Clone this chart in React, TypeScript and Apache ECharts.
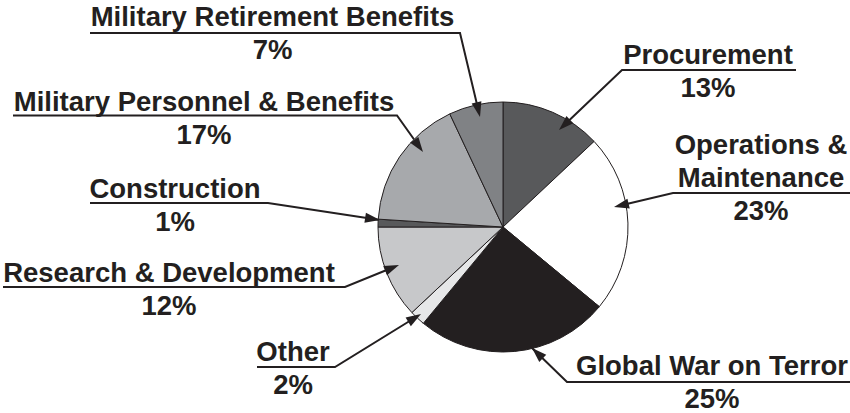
import React, { useEffect, useRef } from "react";
import * as echarts from "echarts";

// ---- Data ----
const categories: string[] = [
  "Procurement",
  "Operations &\nMaintenance",
  "Global War on Terror",
  "Other",
  "Research & Development",
  "Construction",
  "Military Personnel & Benefits",
  "Military Retirement Benefits",
];
const values: number[] = [13, 23, 25, 2, 12, 1, 17, 7];

// ---- Styles ----
const sliceColors: string[] = [
  "#58595b",
  "#ffffff",
  "#231f20",
  "#e6e7e8",
  "#c7c8ca",
  "#58595b",
  "#a7a9ac",
  "#808285",
];
const INK = "#231f20";
const CENTER: [number, number] = [503, 227];
const RADIUS = 125;
const FONT = 27.5;
const LINE_H = 33;

// ---- Label layout (annotation positions) ----
type LL = { x: number; base: number; tip: number[]; bend: number[]; far: number[] };
const labelLayouts: LL[] = [
  { x: 708, base: 64.5, tip: [559, 130], bend: [622, 70], far: [796, 70] },
  { x: 761, base: 154, tip: [614, 207], bend: [673, 193], far: [850, 193] },
  { x: 712, base: 375, tip: [532, 348], bend: [567, 382], far: [850, 382] },
  { x: 293, base: 361, tip: [421, 314], bend: [335, 367], far: [257, 367] },
  { x: 169, base: 282, tip: [399, 265], bend: [345, 287], far: [3, 287] },
  { x: 175, base: 198, tip: [380, 220], bend: [268, 203], far: [90, 203] },
  { x: 204, base: 111.5, tip: [423, 152], bend: [397, 115.5], far: [13, 115.5] },
  { x: 272.5, base: 26.5, tip: [480, 117], bend: [460, 33], far: [90, 33] },
];

function arrowHead(tip: number[], from: number[]) {
  const L = 15;
  const W = 10;
  const dx = tip[0] - from[0];
  const dy = tip[1] - from[1];
  const len = Math.sqrt(dx * dx + dy * dy) || 1;
  const ux = dx / len;
  const uy = dy / len;
  const nx = -uy;
  const ny = ux;
  const bx = tip[0] - ux * L;
  const by = tip[1] - uy * L;
  return [
    [tip[0], tip[1]],
    [bx + (nx * W) / 2, by + (ny * W) / 2],
    [bx - (nx * W) / 2, by - (ny * W) / 2],
  ];
}

export default function App() {
  const ref = useRef<HTMLDivElement>(null);
  useEffect(() => {
    if (!ref.current) return;
    const chart = echarts.init(ref.current, null, { renderer: "svg" });
    const data = categories.map((name, i) => ({
      name,
      value: values[i],
      itemStyle: { color: sliceColors[i] },
    }));
    const textStyle = {
      fontFamily: "Liberation Sans, Arial, sans-serif",
      fontWeight: "bold",
      fontSize: FONT,
      lineHeight: LINE_H,
      color: INK,
      align: "center",
    };
    chart.setOption({
      animation: false,
      backgroundColor: "#ffffff",
      series: [
        {
          type: "pie",
          center: CENTER,
          radius: RADIUS,
          startAngle: 90,
          clockwise: true,
          avoidLabelOverlap: false,
          silent: true,
          data,
          itemStyle: { borderColor: INK, borderWidth: 1 },
          label: {
            show: true,
            position: "outside",
            formatter: (p: any) => {
              const lines = String(p.name)
                .split("\n")
                .map((s: string) => `{t|${s}}`)
                .join("\n");
              return `${lines}\n{p|${p.value}%}`;
            },
            rich: { t: textStyle, p: textStyle },
          },
          labelLine: {
            show: true,
            smooth: false,
            lineStyle: { color: INK, width: 2 },
          },
          labelLayout: (params: any) => {
            const L = labelLayouts[params.dataIndex];
            return {
              x: L.x,
              y: L.base - (LINE_H / 2 + FONT * 0.3465),
              align: "center",
              verticalAlign: "top",
              labelLinePoints: [L.tip, L.bend, L.far],
            };
          },
        },
      ],
      graphic: labelLayouts.map((L) => ({
        type: "polygon",
        z: 100,
        silent: true,
        shape: { points: arrowHead(L.tip, L.bend) },
        style: { fill: INK },
      })),
    });
    return () => chart.dispose();
  }, []);
  return (
    <div
      ref={ref}
      style={{ position: "fixed", left: 0, top: 0, width: 850, height: 413 }}
    />
  );
}
